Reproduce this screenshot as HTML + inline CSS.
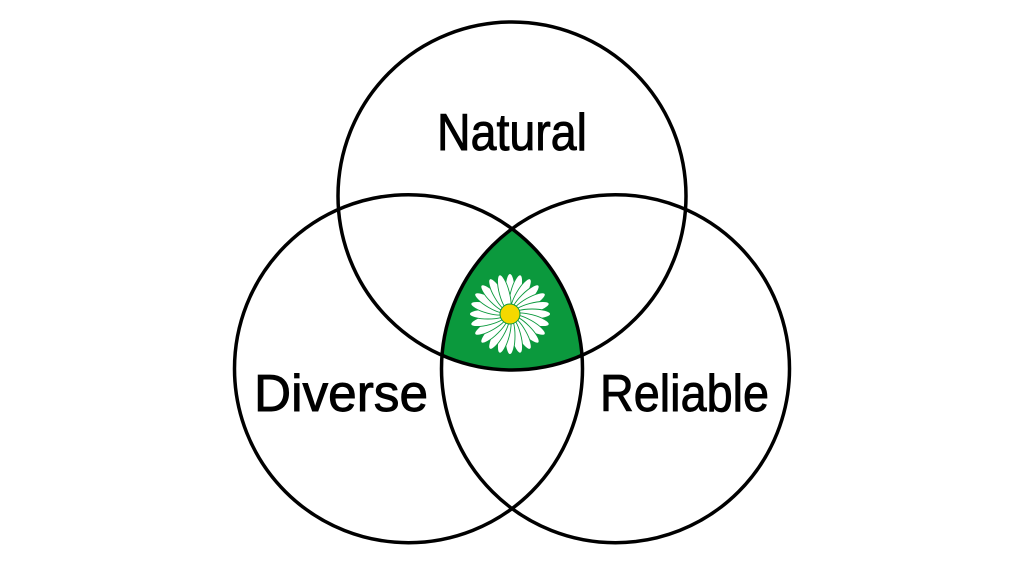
<!DOCTYPE html>
<html>
<head>
<meta charset="utf-8">
<style>
  html, body { margin: 0; padding: 0; background: #ffffff; }
  svg { display: block; }
  text { font-family: "Liberation Sans", "DejaVu Sans", sans-serif; font-size: 52px; fill: #000; stroke: #000; stroke-width: 0.9px; }
</style>
</head>
<body>
<svg width="1024" height="585" viewBox="0 0 1024 585" xmlns="http://www.w3.org/2000/svg">
  <defs>
    <clipPath id="cl">
      <circle cx="408.5" cy="368.7" r="174"/>
    </clipPath>
    <clipPath id="cr">
      <circle cx="615.5" cy="368.7" r="174"/>
    </clipPath>
  </defs>
  <rect width="1024" height="585" fill="#fff"/>

  <!-- green triple intersection -->
  <g clip-path="url(#cl)">
    <g clip-path="url(#cr)">
      <circle cx="512" cy="196" r="174" fill="#0b993d"/>
    </g>
  </g>

  <!-- daisy -->
  <g transform="translate(510,314)">
    <g fill="#ffffff" stroke="#0b993d" stroke-width="0.9">
      <ellipse cx="0" cy="-22" rx="5" ry="18.5" transform="rotate(0)"/>
      <ellipse cx="0" cy="-22" rx="5" ry="18.5" transform="rotate(15)"/>
      <ellipse cx="0" cy="-22" rx="5" ry="18.5" transform="rotate(30)"/>
      <ellipse cx="0" cy="-22" rx="5" ry="18.5" transform="rotate(45)"/>
      <ellipse cx="0" cy="-22" rx="5" ry="18.5" transform="rotate(60)"/>
      <ellipse cx="0" cy="-22" rx="5" ry="18.5" transform="rotate(75)"/>
      <ellipse cx="0" cy="-22" rx="5" ry="18.5" transform="rotate(90)"/>
      <ellipse cx="0" cy="-22" rx="5" ry="18.5" transform="rotate(105)"/>
      <ellipse cx="0" cy="-22" rx="5" ry="18.5" transform="rotate(120)"/>
      <ellipse cx="0" cy="-22" rx="5" ry="18.5" transform="rotate(135)"/>
      <ellipse cx="0" cy="-22" rx="5" ry="18.5" transform="rotate(150)"/>
      <ellipse cx="0" cy="-22" rx="5" ry="18.5" transform="rotate(165)"/>
      <ellipse cx="0" cy="-22" rx="5" ry="18.5" transform="rotate(180)"/>
      <ellipse cx="0" cy="-22" rx="5" ry="18.5" transform="rotate(195)"/>
      <ellipse cx="0" cy="-22" rx="5" ry="18.5" transform="rotate(210)"/>
      <ellipse cx="0" cy="-22" rx="5" ry="18.5" transform="rotate(225)"/>
      <ellipse cx="0" cy="-22" rx="5" ry="18.5" transform="rotate(240)"/>
      <ellipse cx="0" cy="-22" rx="5" ry="18.5" transform="rotate(255)"/>
      <ellipse cx="0" cy="-22" rx="5" ry="18.5" transform="rotate(270)"/>
      <ellipse cx="0" cy="-22" rx="5" ry="18.5" transform="rotate(285)"/>
      <ellipse cx="0" cy="-22" rx="5" ry="18.5" transform="rotate(300)"/>
      <ellipse cx="0" cy="-22" rx="5" ry="18.5" transform="rotate(315)"/>
      <ellipse cx="0" cy="-22" rx="5" ry="18.5" transform="rotate(330)"/>
      <ellipse cx="0" cy="-22" rx="5" ry="18.5" transform="rotate(345)"/>
    </g>
    <circle cx="0" cy="0" r="10" fill="#f5d800" stroke="#0b993d" stroke-width="1"/>
  </g>

  <!-- circle outlines -->
  <g fill="none" stroke="#000" stroke-width="3.5">
    <circle cx="512" cy="196" r="174"/>
    <circle cx="408.5" cy="368.7" r="174"/>
    <circle cx="615.5" cy="368.7" r="174"/>
  </g>

  <!-- labels -->
  <text x="437" y="150" textLength="150" lengthAdjust="spacingAndGlyphs">Natural</text>
  <text x="254" y="411" textLength="174" lengthAdjust="spacingAndGlyphs">Diverse</text>
  <text x="600" y="411" textLength="169" lengthAdjust="spacingAndGlyphs">Reliable</text>
</svg>
</body>
</html>
